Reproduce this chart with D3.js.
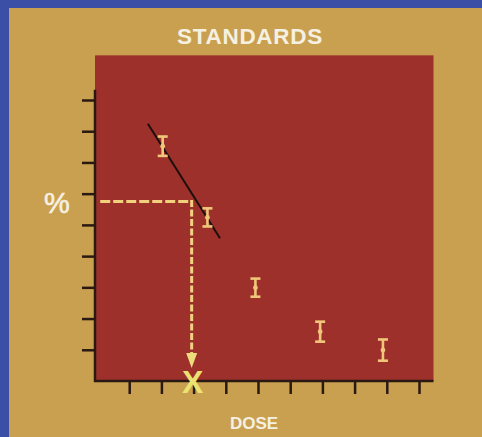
<!DOCTYPE html>
<html>
<head>
<meta charset="utf-8">
<script src="https://cdn.jsdelivr.net/npm/d3@7/dist/d3.min.js"></script>
<style>
  html, body { margin: 0; padding: 0; background: #c9a04f; }
  svg { display: block; }
</style>
</head>
<body>
<script>
// ---- data ----
const title = "STANDARDS";
const xLabel = "DOSE";
const yLabel = "%";
const xTicks = [1, 2, 3, 4, 5, 6, 7, 8, 9, 10];
const yTicks = [1, 2, 3, 4, 5, 6, 7, 8, 9];
const doseValues = [2.04, 3.43, 4.92, 6.93, 8.88];
const pctValues = [7.52, 5.24, 2.99, 1.58, 0.99];
const pctErrors = [0.31, 0.29, 0.29, 0.32, 0.34];
const fitLineDose = [1.58, 3.82];
const fitLinePct = [8.24, 4.57];
const unknownPct = 5.75;
const unknownDose = 2.94;
const readoutStartDose = 0.1;
const arrowEndPct = 0.42;

// ---- layout ----
const W = 482, H = 437;
const svg = d3.select("body").append("svg").attr("width", W).attr("height", H);

const x = d3.scaleLinear().domain([0, 10]).range([97, 419]);
const y = d3.scaleLinear().domain([0, 9]).range([381, 100]);

// background
svg.append("rect").attr("x", 0).attr("y", 0).attr("width", W).attr("height", H).attr("fill", "#c9a04f");
svg.append("rect").attr("x", 0).attr("y", 0).attr("width", 9).attr("height", H).attr("fill", "#3c4fa6");
svg.append("rect").attr("x", 0).attr("y", 0).attr("width", W).attr("height", 8).attr("fill", "#3c4fa6");

// plot area
svg.append("rect")
  .attr("x", x(0) - 2).attr("y", y(10.43))
  .attr("width", x(10.45) - x(0) + 2).attr("height", y(0) - y(10.43))
  .attr("fill", "#9d302b");

// axes
const tickColor = "#2a1912";
const yAxis = d3.axisLeft(y).tickValues(yTicks).tickSize(13).tickFormat("");
const gy = svg.append("g").attr("transform", `translate(${x(0) - 2},0)`).call(yAxis);
gy.select(".domain").remove();
gy.selectAll(".tick line").attr("stroke", tickColor).attr("stroke-width", 2.5);
svg.append("line").attr("x1", x(0) - 2).attr("x2", x(0) - 2).attr("y1", y(9.33)).attr("y2", y(0) + 1)
  .attr("stroke", tickColor).attr("stroke-width", 2.5);

const xAxis = d3.axisBottom(x).tickValues(xTicks).tickSize(13).tickFormat("");
const gx = svg.append("g").attr("transform", `translate(0,${y(0)})`).call(xAxis);
gx.select(".domain").remove();
gx.selectAll(".tick line").attr("stroke", tickColor).attr("stroke-width", 2.5);
svg.append("line").attr("x1", x(0) - 3).attr("x2", x(10.45)).attr("y1", y(0)).attr("y2", y(0))
  .attr("stroke", tickColor).attr("stroke-width", 2.5);

// fit line
svg.append("line")
  .attr("x1", x(fitLineDose[0])).attr("y1", y(fitLinePct[0]))
  .attr("x2", x(fitLineDose[1])).attr("y2", y(fitLinePct[1]))
  .attr("stroke", "#1c0f0b").attr("stroke-width", 2);

// readout dashed lines
const dashColor = "#f1d07e";
svg.append("path")
  .attr("d", `M${x(readoutStartDose)},${y(unknownPct)} H${x(unknownDose)}`)
  .attr("stroke", dashColor).attr("stroke-width", 3).attr("fill", "none")
  .attr("stroke-dasharray", "10,3");
svg.append("path")
  .attr("d", `M${x(unknownDose)},${y(unknownPct) - 1.5} V${y(arrowEndPct) - 12}`)
  .attr("stroke", dashColor).attr("stroke-width", 3).attr("fill", "none")
  .attr("stroke-dasharray", "7,2.5");
// arrow head
const ax = x(unknownDose), ay = y(arrowEndPct);
svg.append("path")
  .attr("d", `M${ax - 5.5},${ay - 15} L${ax + 5.5},${ay - 15} L${ax},${ay} Z`)
  .attr("fill", "#eedc7a");

// error bars
const barColor = "#f0c77a";
const pts = doseValues.map((d, i) => ({ d, p: pctValues[i], e: pctErrors[i] }));
const gb = svg.append("g");
pts.forEach(pt => {
  const cx = x(pt.d);
  const t = y(pt.p + pt.e), b = y(pt.p - pt.e);
  gb.append("line").attr("x1", cx).attr("x2", cx).attr("y1", t).attr("y2", b)
    .attr("stroke", barColor).attr("stroke-width", 2.6);
  gb.append("line").attr("x1", cx - 5).attr("x2", cx + 5).attr("y1", t).attr("y2", t)
    .attr("stroke", barColor).attr("stroke-width", 2.6);
  gb.append("line").attr("x1", cx - 5).attr("x2", cx + 5).attr("y1", b).attr("y2", b)
    .attr("stroke", barColor).attr("stroke-width", 2.6);
  gb.append("circle").attr("cx", cx).attr("cy", y(pt.p)).attr("r", 2.4).attr("fill", barColor);
});

// unknown X marker
svg.append("text")
  .attr("x", x(unknownDose) + 1).attr("y", y(0) + 12)
  .attr("text-anchor", "middle")
  .attr("font-family", "Liberation Sans, Arial, sans-serif")
  .attr("font-weight", "bold").attr("font-size", 32)
  .attr("fill", "#ece272")
  .text("X");

// labels
svg.append("text")
  .attr("x", 250).attr("y", 44)
  .attr("text-anchor", "middle")
  .attr("font-family", "Liberation Sans, Arial, sans-serif")
  .attr("font-weight", "bold").attr("font-size", 22.5)
  .attr("letter-spacing", 0.7)
  .attr("fill", "#f6f0e2")
  .text(title);

svg.append("text")
  .attr("x", 254).attr("y", 429)
  .attr("text-anchor", "middle")
  .attr("font-family", "Liberation Sans, Arial, sans-serif")
  .attr("font-weight", "bold").attr("font-size", 17)
  .attr("fill", "#f6f0e2")
  .text(xLabel);

svg.append("text")
  .attr("x", 57).attr("y", 213)
  .attr("text-anchor", "middle")
  .attr("font-family", "Liberation Sans, Arial, sans-serif")
  .attr("font-size", 29)
  .attr("stroke", "#f6f0e2").attr("stroke-width", 0.6)
  .attr("fill", "#f6f0e2")
  .text(yLabel);
</script>
</body>
</html>
